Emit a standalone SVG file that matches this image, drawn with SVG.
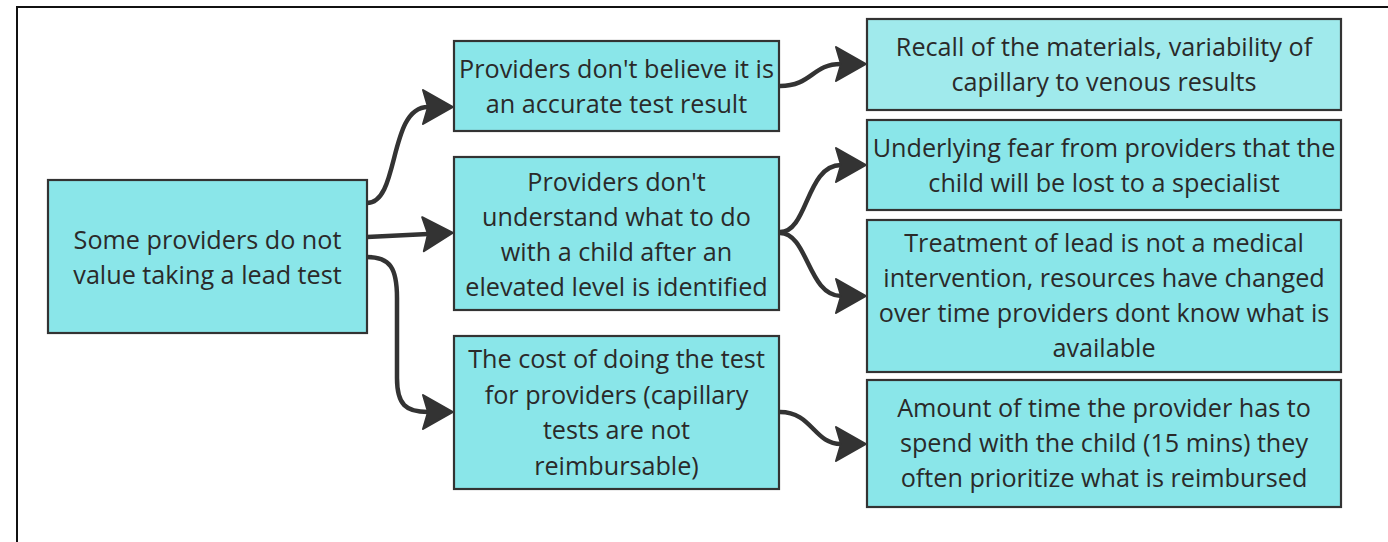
<svg xmlns="http://www.w3.org/2000/svg" width="1388" height="542" viewBox="0 0 1388 542">
  <style>
    .box { fill: #8ae6e9; stroke: #333333; stroke-width: 2.2; }
    .box.light { fill: #a0eaec; }
    .label { font-family: "Open Sans", "Noto Sans", "Liberation Sans", sans-serif; font-size: 25.2px; fill: #2a2a2a; text-anchor: middle; }
    .link { fill: none; stroke: #333333; stroke-width: 4.5; stroke-linecap: round; }
  </style>
  <defs>
    <marker id="arrow" markerUnits="userSpaceOnUse" viewBox="0 0 32 36" refX="6" refY="18" markerWidth="32" markerHeight="36" orient="auto" overflow="visible">
      <path d="M1,1 L31,18 L1,35 L6,18 Z" fill="#333333" stroke="#333333" stroke-width="2" stroke-linejoin="round"/>
    </marker>
  </defs>

  <rect width="1388" height="542" fill="#ffffff"/>
  <!-- outer frame -->
  <path d="M17,542 L17,7 L1388,7" fill="none" stroke="#111111" stroke-width="2"/>

  <!-- connectors -->
  <g id="connectors">
    <path class="link" d="M367,203 C400,203 388,107 428,107" marker-end="url(#arrow)"/>
    <path class="link" d="M367,237 L428,234" marker-end="url(#arrow)"/>
    <path class="link" d="M367,257 C390,257 397,268 397,298 L397,378 C397,405 406,412 428,412" marker-end="url(#arrow)"/>
    <path class="link" d="M780,86 C812,86 812,64 841,64" marker-end="url(#arrow)"/>
    <path class="link" d="M780,232 C808,232 806,165 841,165" marker-end="url(#arrow)"/>
    <path class="link" d="M780,233 C808,233 808,296 841,296" marker-end="url(#arrow)"/>
    <path class="link" d="M780,412 C812,412 814,444 841,444" marker-end="url(#arrow)"/>
  </g>

  <!-- root cause -->
  <g id="root">
    <rect class="box" x="48" y="180" width="319" height="153"/>
    <text class="label" x="207.5" y="249">Some providers do not</text>
    <text class="label" x="207.5" y="284">value taking a lead test</text>
  </g>

  <!-- second level -->
  <g id="accuracy">
    <rect class="box" x="454" y="41" width="325" height="90"/>
    <text class="label" x="616.5" y="78">Providers don't believe it is</text>
    <text class="label" x="616.5" y="113">an accurate test result</text>
  </g>
  <g id="follow-up">
    <rect class="box" x="454" y="157" width="325" height="153"/>
    <text class="label" x="616.5" y="191">Providers don't</text>
    <text class="label" x="616.5" y="226">understand what to do</text>
    <text class="label" x="616.5" y="261">with a child after an</text>
    <text class="label" x="616.5" y="296">elevated level is identified</text>
  </g>
  <g id="cost">
    <rect class="box" x="454" y="336" width="325" height="153"/>
    <text class="label" x="616.5" y="368">The cost of doing the test</text>
    <text class="label" x="616.5" y="404">for providers (capillary</text>
    <text class="label" x="616.5" y="439">tests are not</text>
    <text class="label" x="616.5" y="475">reimbursable)</text>
  </g>

  <!-- third level -->
  <g id="recall">
    <rect class="box light" x="867" y="19" width="474" height="91"/>
    <text class="label" x="1104" y="56">Recall of the materials, variability of</text>
    <text class="label" x="1104" y="91">capillary to venous results</text>
  </g>
  <g id="specialist">
    <rect class="box" x="867" y="120" width="474" height="90"/>
    <text class="label" x="1104" y="157">Underlying fear from providers that the</text>
    <text class="label" x="1104" y="192">child will be lost to a specialist</text>
  </g>
  <g id="treatment">
    <rect class="box" x="867" y="220" width="474" height="152"/>
    <text class="label" x="1104" y="252">Treatment of lead is not a medical</text>
    <text class="label" x="1104" y="287">intervention, resources have changed</text>
    <text class="label" x="1104" y="322">over time providers dont know what is</text>
    <text class="label" x="1104" y="357">available</text>
  </g>
  <g id="time">
    <rect class="box" x="867" y="380" width="474" height="127"/>
    <text class="label" x="1104" y="417">Amount of time the provider has to</text>
    <text class="label" x="1104" y="452">spend with the child (15 mins) they</text>
    <text class="label" x="1104" y="487">often prioritize what is reimbursed</text>
  </g>
</svg>
